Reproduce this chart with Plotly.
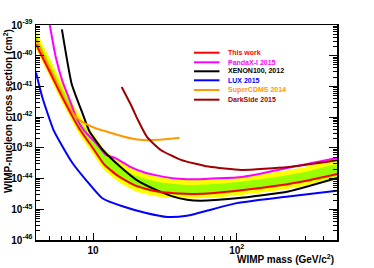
import numpy as np
import plotly.graph_objects as go

# ---------------- data (log10 of cross section in cm^2) ----------------
mass_band = [4, 5, 6, 8, 10, 12, 15, 20, 25, 30, 40, 50, 70, 100, 150, 200, 300, 500]
this_work = [-39.63, -40.54, -41.29, -42.37, -43.02, -43.55, -43.92, -44.24, -44.37, -44.44, -44.49, -44.50, -44.47, -44.40, -44.30, -44.22, -44.08, -43.85]
band2_hi = [-39.20, -40.10, -40.85, -41.91, -42.54, -43.05, -43.42, -43.74, -43.88, -43.96, -44.03, -44.05, -44.02, -43.95, -43.85, -43.77, -43.63, -43.40]
band1_hi = [-39.35, -40.25, -41.00, -42.07, -42.71, -43.22, -43.59, -43.91, -44.05, -44.13, -44.19, -44.21, -44.18, -44.11, -44.01, -43.93, -43.79, -43.56]
band1_lo = [-39.67, -40.58, -41.33, -42.42, -43.07, -43.60, -43.97, -44.29, -44.42, -44.49, -44.54, -44.55, -44.52, -44.45, -44.35, -44.27, -44.13, -43.90]
band2_lo = [-39.78, -40.70, -41.46, -42.55, -43.20, -43.73, -44.10, -44.42, -44.54, -44.60, -44.64, -44.65, -44.62, -44.55, -44.45, -44.37, -44.23, -44.00]

pandax_m = [4.99, 5.5, 6.1, 6.9, 7.6, 8.6, 10.5, 12.3, 14.4, 18.0, 23.4, 35.7, 45, 60, 108, 229, 500]
pandax_s = [-39.0, -40.06, -40.82, -41.47, -42.0, -42.42, -42.85, -43.23, -43.34, -43.61, -43.82, -43.99, -44.02, -44.01, -43.95, -43.65, -43.33]

xenon_m = [6.06, 7.1, 8.47, 9.4, 11.7, 15.4, 20.0, 27.5, 35.7, 45, 56, 100, 229, 500]
xenon_s = [-39.14, -40.93, -41.90, -42.45, -43.07, -43.61, -44.04, -44.37, -44.58, -44.69, -44.72, -44.64, -44.42, -43.98]

lux_m = [4, 4.43, 5.3, 6.13, 7.2, 8.9, 11.6, 16.2, 23.4, 32.9, 45, 100, 229, 500]
lux_s = [-40.55, -41.36, -42.42, -42.96, -43.50, -44.04, -44.64, -44.91, -45.12, -45.25, -45.21, -44.80, -44.58, -44.40]

cdms_m = [4, 4.7, 5.5, 6.4, 7.6, 8.9, 10.5, 12.4, 16.4, 21.3, 28, 40]
cdms_s = [-39.46, -40.17, -40.82, -41.47, -42.0, -42.22, -42.37, -42.47, -42.64, -42.74, -42.74, -42.67]

darkside_m = [15.8, 18.6, 20.4, 23.7, 29.6, 40.9, 63.7, 108, 229, 500]
darkside_s = [-41.02, -41.66, -42.07, -42.64, -43.07, -43.39, -43.61, -43.72, -43.62, -43.40]

legend_labels = ["This work", "PandaX-I 2015", "XENON100, 2012", "LUX 2015", "SuperCDMS 2014", "DarkSide 2015"]
legend_colors = ["#ff0000", "#ff00ff", "#000000", "#0000ff", "#ff9900", "#a00000"]

x_tickvals = [10, 100]
x_ticktext = ["10", "10<sup>2</sup>"]
y_exps = [-46, -45, -44, -43, -42, -41, -40, -39]

# ---------------- figure ----------------
FONT = "Liberation Sans, Arial, Helvetica, sans-serif"
fig = go.Figure()

def p(v):
    return list(np.power(10.0, v))

# brazil band
fig.add_trace(go.Scatter(x=mass_band + mass_band[::-1], y=p(band2_hi + band2_lo[::-1]),
                         fill="toself", fillcolor="#ffff00", line=dict(width=0, shape="spline", smoothing=0.5),
                         mode="lines", hoverinfo="skip", showlegend=False))
fig.add_trace(go.Scatter(x=mass_band + mass_band[::-1], y=p(band1_hi + band1_lo[::-1]),
                         fill="toself", fillcolor="#99ff00", line=dict(width=0, shape="spline", smoothing=0.5),
                         mode="lines", hoverinfo="skip", showlegend=False))

curves = [
    (pandax_m, pandax_s, legend_colors[1]),
    (xenon_m, xenon_s, legend_colors[2]),
    (lux_m, lux_s, legend_colors[3]),
    (cdms_m, cdms_s, legend_colors[4]),
    (darkside_m, darkside_s, legend_colors[5]),
    (mass_band, this_work, legend_colors[0]),
]
for mx, sy, col in curves:
    fig.add_trace(go.Scatter(x=mx, y=p(sy), mode="lines",
                             line=dict(color=col, width=2, shape="spline", smoothing=0.5),
                             showlegend=False))

# legend (manual, ROOT style)
leg_y_px = [52.7, 62.3, 71.3, 80.3, 90.0, 99.7]
L, T, W, H = 36, 25, 301, 215
for lab, col, py in zip(legend_labels, legend_colors, leg_y_px):
    yy = 1 - (py - T) / H
    fig.add_shape(type="line", xref="paper", yref="paper",
                  x0=(194 - L) / W, x1=(219.5 - L) / W, y0=yy, y1=yy,
                  line=dict(color=col, width=2))
    fig.add_annotation(xref="paper", yref="paper", x=(226 - L) / W, y=yy,
                       xanchor="left", yanchor="middle", showarrow=False,
                       text=lab, font=dict(family=FONT, size=7, color=col, weight="bold"))

# axis titles
fig.add_annotation(xref="paper", yref="paper", x=(8 - L) / W, y=1 - (27 - T) / H,
                   xanchor="center", yanchor="top", textangle=-90, showarrow=False,
                   text="WIMP-nucleon cross section (cm<sup>2</sup>)",
                   font=dict(family=FONT, size=10, color="black", weight="bold"))
fig.add_annotation(xref="paper", yref="paper", x=(336 - L) / W, y=1 - (259 - T) / H,
                   xanchor="right", yanchor="middle", showarrow=False,
                   text="WIMP mass (GeV/c<sup>2</sup>)",
                   font=dict(family=FONT, size=10, color="black", weight="bold"))

x_minor = [v * 10 ** e for e in range(0, 3) for v in range(2, 10) if 4 <= v * 10 ** e <= 500 and v * 10 ** e not in (10, 100)]
y_minor = [v * 10.0 ** e for e in range(-46, -39) for v in range(2, 10)]

fig.update_xaxes(type="log", range=[np.log10(4), np.log10(500)],
                 tickmode="array", tickvals=x_tickvals, ticktext=x_ticktext,
                 ticks="inside", ticklen=7, tickwidth=1, tickcolor="black",
                 showline=True, linecolor="black", linewidth=1.5, mirror=True,
                 showgrid=False, zeroline=False, automargin=False,
                 tickfont=dict(family=FONT, size=10, color="black", weight="bold"),
                 minor=dict(tickmode="array", tickvals=x_minor, ticks="inside", ticklen=4,
                            tickwidth=1, tickcolor="black", showgrid=False))
fig.update_yaxes(type="log", range=[-46, -39],
                 tickmode="array", tickvals=[10.0 ** e for e in y_exps],
                 ticktext=["10<sup>%d</sup>" % e for e in y_exps],
                 ticks="inside", ticklen=8, tickwidth=1, tickcolor="black",
                 showline=True, linecolor="black", linewidth=1.5, mirror="allticks",
                 showgrid=False, zeroline=False, automargin=False,
                 tickfont=dict(family=FONT, size=10, color="black", weight="bold"),
                 minor=dict(tickmode="array", tickvals=y_minor, ticks="inside", ticklen=4,
                            tickwidth=1, tickcolor="black", showgrid=False))

fig.update_layout(width=374, height=268, template=None,
                  margin=dict(l=36, r=37, t=25, b=28, autoexpand=False),
                  paper_bgcolor="white", plot_bgcolor="white", showlegend=False)

fig.write_html("out.html", config={"displayModeBar": False, "staticPlot": True},
               post_script="document.body.style.margin='0';")
